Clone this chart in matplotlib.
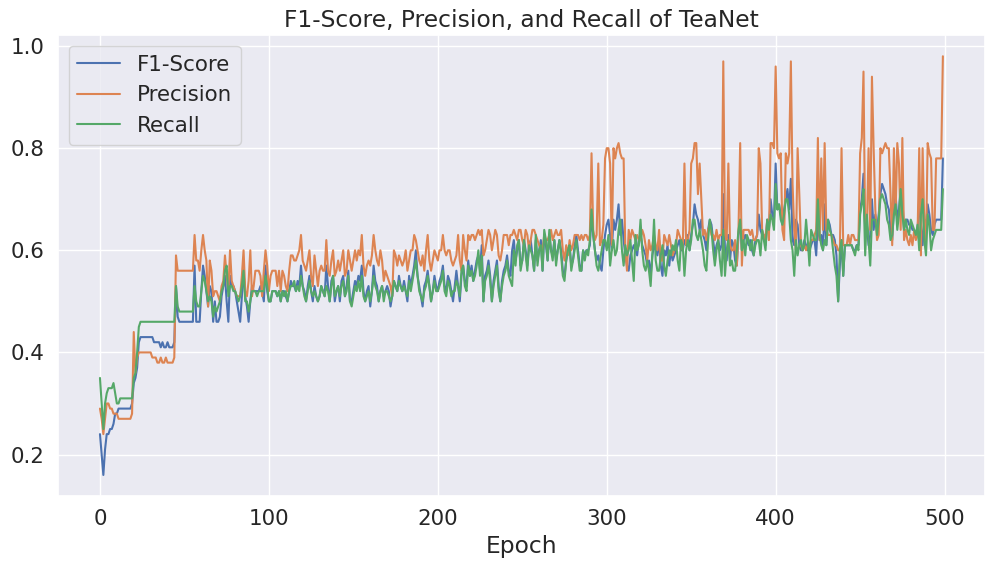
import numpy as np
import matplotlib
matplotlib.use("Agg")
import matplotlib.pyplot as plt
import seaborn as sns

# values in hundredths, one per epoch (0..499)
f1_pct = [
    24,20,16,21,24,24,25,25,26,28, 28,29,29,29,29,29,29,29,29,30,
    34,35,37,42,43,43,43,43,43,43, 43,43,42,42,42,42,41,42,41,41,
    42,41,41,41,42,53,47,46,46,46, 46,46,46,46,46,46,57,46,46,46,
    52,57,55,52,49,53,52,46,50,46, 46,47,51,53,55,50,46,55,53,53,
    52,50,48,46,51,56,51,49,46,50, 53,52,52,52,52,53,52,50,57,52,
    50,50,52,52,52,51,52,50,52,52, 51,50,52,54,53,53,52,54,53,57,
    53,52,50,53,55,52,50,53,51,50, 51,53,52,51,57,53,50,54,55,50,
    52,53,50,54,55,51,53,56,50,50, 52,54,53,55,54,57,52,50,52,53,
    49,52,57,54,53,50,52,53,51,52, 53,52,49,51,54,53,52,55,53,52,
    54,52,50,55,53,55,57,60,55,53, 51,49,53,54,56,53,50,52,55,53,
    52,54,55,57,53,52,55,54,52,50, 53,56,53,50,55,57,54,53,58,55,
    57,54,56,58,59,56,61,50,55,56, 58,55,50,54,56,58,53,50,54,56,
    57,59,56,55,60,62,58,60,62,57, 58,62,60,57,61,62,59,56,62,58,
    60,62,56,63,61,58,63,60,59,62, 58,60,62,60,56,55,58,60,61,57,
    58,61,63,60,57,56,60,59,60,60, 61,67,63,60,58,59,57,56,60,63,
    65,66,63,60,66,64,66,69,63,66, 62,59,57,56,59,60,61,60,59,62,
    63,61,60,59,57,58,55,59,61,60, 59,62,57,55,60,59,61,57,60,58,
    59,60,61,62,60,60,62,61,63,60, 63,65,69,67,66,64,66,63,62,60,
    64,66,65,62,59,61,62,60,61,71, 60,58,63,58,62,61,58,57,63,66,
    60,62,63,62,61,62,60,59,62,63, 67,64,63,63,61,66,64,70,67,66,
    77,68,69,67,65,68,70,72,68,74, 62,61,66,65,61,60,60,62,61,60,
    60,61,62,62,59,66,62,63,60,69, 61,66,65,63,63,62,59,50,57,62,
    55,61,61,61,61,61,60,60,61,61, 68,70,75,64,65,61,63,70,64,67,
    64,67,71,73,72,71,69,68,64,62, 68,71,66,68,72,70,64,66,66,65,
    65,64,64,63,64,70,65,61,66,65, 69,67,64,63,65,66,66,66,66,78,
]

precision_pct = [
    29,27,24,27,30,30,29,29,28,28, 28,27,27,27,27,27,27,27,27,28,
    44,36,39,40,40,40,40,40,40,40, 40,39,39,39,38,38,39,38,38,39,
    38,38,38,38,39,59,56,56,56,56, 56,56,56,56,56,56,63,58,58,56,
    60,63,60,58,49,58,56,51,52,52, 51,50,53,54,59,55,52,60,54,53,
    52,51,51,51,55,60,52,51,54,60, 51,53,56,56,56,55,51,56,60,57,
    52,55,56,56,56,53,56,52,56,55, 53,52,56,59,59,58,58,59,60,63,
    58,57,56,58,60,55,53,59,56,53, 56,57,56,56,62,56,55,58,60,55,
    56,58,56,58,60,55,56,60,58,56, 58,60,58,60,59,63,57,55,57,58,
    57,59,63,60,58,57,60,58,54,56, 55,54,53,51,60,59,57,59,58,57,
    58,60,56,58,60,60,63,62,60,58, 57,59,56,60,63,58,56,58,60,59,
    58,60,60,63,60,59,60,60,58,57, 58,59,63,58,56,63,60,58,63,62,
    63,63,62,63,64,63,64,59,60,62, 64,63,60,62,64,63,59,58,60,63,
    63,63,61,63,63,64,63,62,64,64, 62,61,64,63,60,62,64,64,63,62,
    61,60,60,63,62,62,63,64,62,63, 64,63,63,64,60,58,61,59,62,60,
    61,63,63,63,62,63,62,63,63,62, 63,79,64,62,63,77,61,62,65,78,
    80,80,77,61,80,78,80,81,79,78, 78,60,56,64,62,64,63,62,63,62,
    62,64,63,61,58,62,60,61,63,61, 60,64,58,58,63,62,61,63,61,59,
    60,61,64,63,62,60,77,61,62,64, 77,78,81,81,71,77,70,63,64,62,
    64,65,63,63,62,64,62,63,63,97, 63,62,77,61,60,60,62,57,64,81,
    57,64,64,64,64,63,64,62,62,63, 80,77,64,63,62,66,62,81,81,80,
    96,79,78,79,64,62,79,77,79,97, 73,64,60,80,71,61,60,61,60,61,
    61,62,62,63,64,82,62,78,64,81, 64,63,63,63,62,61,61,60,60,80,
    61,61,61,63,61,63,63,62,62,62, 79,82,95,63,64,80,64,94,80,68,
    62,63,80,79,80,81,80,80,71,61, 80,67,81,77,64,82,62,64,62,61,
    63,61,64,62,63,80,59,80,65,61, 81,79,78,64,64,78,78,78,78,98,
]

recall_pct = [
    35,30,25,30,32,33,33,33,34,32, 30,30,31,31,31,31,31,31,31,31,
    35,36,40,45,46,46,46,46,46,46, 46,46,46,46,46,46,46,46,46,46,
    46,46,46,46,46,53,49,48,48,48, 48,48,48,48,48,48,53,50,49,49,
    52,55,54,52,50,51,50,47,49,48, 49,50,52,53,56,57,51,53,53,52,
    52,51,50,51,53,56,50,50,48,50, 52,52,52,51,52,52,52,52,55,53,
    50,50,52,52,52,51,52,50,52,51, 52,50,52,53,53,54,52,53,52,55,
    53,51,50,52,54,52,51,52,51,50, 51,53,52,51,53,52,50,53,55,51,
    52,53,51,53,54,51,52,55,50,49, 51,53,52,54,52,55,51,50,51,52,
    50,52,55,53,52,50,52,53,50,52, 52,51,50,51,54,53,52,54,53,52,
    53,52,51,54,52,54,56,58,55,52, 51,50,52,53,55,53,50,52,54,52,
    52,53,54,56,52,51,54,53,51,52, 52,54,53,51,56,57,53,52,57,55,
    56,54,55,57,60,55,59,50,54,55, 57,54,50,53,55,57,52,50,53,55,
    56,58,55,54,53,60,57,61,62,56, 58,62,59,56,61,60,59,56,63,57,
    60,61,56,64,62,58,64,60,58,62, 57,60,62,59,55,54,58,60,61,56,
    58,60,62,59,56,56,60,58,60,59, 62,68,63,60,57,56,58,60,62,62,
    60,63,57,60,62,59,60,64,66,60, 57,61,59,60,62,58,54,63,60,61,
    66,60,57,56,58,56,53,59,66,58, 56,56,59,61,57,55,58,60,59,61,
    60,62,58,56,62,61,55,60,62,60, 62,66,66,63,62,64,62,60,57,56,
    62,66,64,60,57,60,62,58,55,64, 55,60,62,57,58,56,56,60,64,66,
    60,62,59,63,62,60,62,59,61,62, 62,59,64,62,60,66,64,67,66,64,
    73,68,69,66,65,67,70,70,67,62, 60,55,62,59,61,62,60,61,66,62,
    57,64,63,62,62,70,63,61,60,62, 61,66,64,63,60,57,55,50,60,62,
    55,61,61,61,61,61,60,59,61,60, 67,69,72,59,67,62,57,66,66,66,
    63,66,70,71,70,69,66,65,62,63, 67,69,64,67,72,67,64,66,64,63,
    66,65,64,63,65,60,67,70,62,59, 67,65,60,62,63,64,64,64,64,72,
]

series_names = ["F1-Score", "Precision", "Recall"]
title = "F1-Score, Precision, and Recall of TeaNet"

f1 = np.array(f1_pct) / 100.0
precision = np.array(precision_pct) / 100.0
recall = np.array(recall_pct) / 100.0
epochs = np.arange(len(f1))

sns.set_theme(style="darkgrid", font_scale=1.4)
plt.rcParams['font.family'] = ['DejaVu Sans']

fig, ax = plt.subplots(figsize=(9.97, 5.70), dpi=100)
fig.subplots_adjust(left=0.058, right=0.988, top=0.938, bottom=0.130)

ax.plot(epochs, f1, label=series_names[0], linewidth=1.5)
ax.plot(epochs, precision, label=series_names[1], linewidth=1.5)
ax.plot(epochs, recall, label=series_names[2], linewidth=1.5)

ax.set_title(title)
ax.set_xlabel("Epoch")
ax.legend(loc="upper left")

fig.savefig("out.png", dpi=100)
